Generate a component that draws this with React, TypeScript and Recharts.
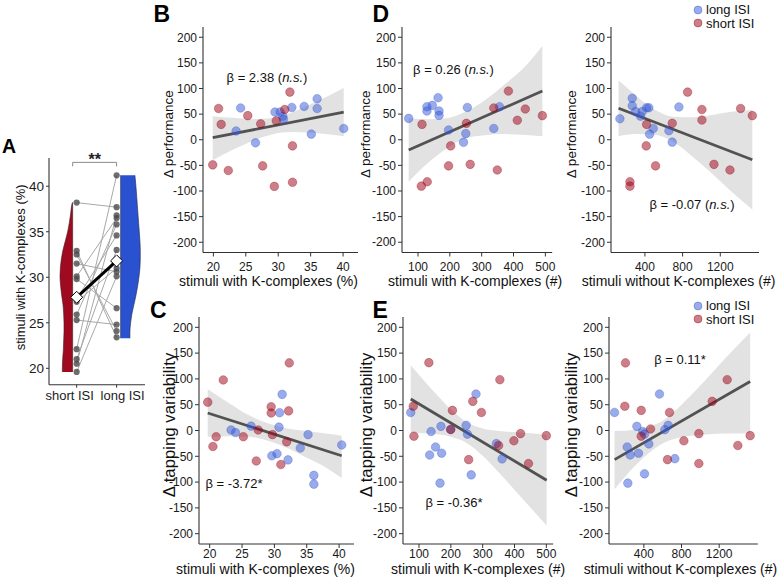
import React from 'react';
import { ComposedChart, Scatter, Area, Line, XAxis, YAxis, Label } from 'recharts';

const FONT = '"Liberation Sans", Arial, Helvetica, sans-serif';
const BLUE = 'rgb(51,88,213)';
const RED = 'rgb(155,0,19)';
const VIOLIN_RED = 'rgb(160,10,32)';
const VIOLIN_BLUE = 'rgb(42,82,208)';
const INK = '#1a1a1a';
const AXIS = '#333';

type Pair = [number, number];

// ---------- Panel A: stimuli with K-complexes (%) per participant ----------
const aGroups = ['short ISI', 'long ISI'];
const aShortPct = [38.2, 32.9, 32.5, 31.5, 30.1, 29.8, 27.6, 27.3, 25.9, 25.3, 22.1, 21.0, 20.5, 19.6];
const aLongPct = [37.7, 23.4, 24.1, 30.6, 36.5, 26.6, 34.6, 31.0, 35.8, 24.8, 41.2, 33.0, 36.8, 30.1];
const aMeans = [27.8, 31.8];
const aYTicks = [20, 25, 30, 35, 40];

// half-violin outlines: half-widths (in group units) along each y grid
const violinShortY = [19.6, 20, 21, 22, 23, 24, 25, 26, 27, 28, 29, 30, 31, 32, 33, 34, 35, 36, 37, 38, 38.2];
const violinShortW = [0.258, 0.258, 0.25, 0.233, 0.225, 0.217, 0.217, 0.225, 0.242, 0.275, 0.3, 0.317, 0.308, 0.283, 0.242, 0.183, 0.125, 0.083, 0.05, 0.02, 0.008];
const violinLongY = [23.3, 24, 25, 26, 27, 28, 29, 30, 31, 32, 33, 34, 35, 36, 37, 38, 39, 40, 41.2];
const violinLongW = [0.233, 0.233, 0.25, 0.283, 0.333, 0.383, 0.425, 0.458, 0.483, 0.492, 0.492, 0.483, 0.467, 0.45, 0.433, 0.417, 0.4, 0.383, 0.358];

// ---------- Panel B: Δ performance vs stimuli with K-complexes (%) ----------
const bLong: Pair[] = [[23.5, 17], [24.2, 62], [26.5, -6], [29.5, 54], [30.3, 54], [30.7, 46], [30.8, 40], [32.1, 63], [34.0, 65], [35.1, 11], [36.0, 80], [36.0, 61], [40.1, 22]];
const bShort: Pair[] = [[19.9, -49], [20.8, 61], [21.2, 30], [22.3, -60], [25.3, 47], [27.3, 31], [27.6, -51], [29.4, -91], [29.7, 37], [31.0, 59], [31.8, 93], [32.2, -12], [32.2, -83]];
const bBandX = [19.9, 23, 26, 29, 32, 35, 38, 40.1];
const bBandLo = [-40, -19.7, -2.6, 10.3, 14.9, 13.7, 10.3, 7];
const bBandHi = [46, 42.7, 40.4, 42.5, 52.9, 69.1, 87.3, 101];
const bFit: Pair = [4, 54];

// ---------- Panel C: Δ tapping variability vs stimuli with K-complexes (%) ----------
const cLong: Pair[] = [[23.3, 1], [24.0, -4], [26.4, 8.5], [29.6, -49], [30.4, -45], [30.7, 6.5], [30.8, 34.5], [31.2, 70], [32.1, -57], [34.0, -34], [35.2, -8], [36.1, -87], [36.1, -104], [40.4, -28]];
const cShort: Pair[] = [[19.7, 55], [22.1, 98], [21.0, -12], [20.5, -31], [25.2, -12], [27.2, -59], [27.5, 1], [29.5, 46], [29.5, 34], [29.7, -8], [31.0, -66], [31.9, -22], [32.2, 38], [32.3, 131]];
const cBandX = [19.7, 23, 26, 29, 32, 35, 38, 40.4];
const cBandLo = [-12, -11, -12, -20, -34, -53, -72, -92];
const cBandHi = [80, 53, 30, 14, 4, -1, -6, -10];
const cFit: Pair = [34, -49];

// ---------- Panel D (left): Δ performance vs stimuli with K-complexes (#) ----------
const dLong: Pair[] = [[70.7, 41.7], [128, 64.5], [128, 56], [145, 67], [163, 82], [166, 56], [166, 47.5], [196, 19], [255, 63], [243, -5], [250, 12], [338, 22], [356, 64.5]];
const dShort: Pair[] = [[112.6, 30], [110.5, -90.5], [129, -82], [202.6, -12], [196, -51], [252, 32], [264, -48], [338, 62], [349, -59], [384, 95], [412, 38], [437, 60], [490.6, 47]];
const dBandX = [70.7, 130, 190, 250, 310, 370, 430, 490.6];
const dBandLo = [-82, -46, -17, 3, 9, 11, 10, 7];
const dBandHi = [42, 40, 42, 55, 77, 107, 139, 183];
const dFit: Pair = [-20, 95];

// ---------- Panel D (right): Δ performance vs stimuli without K-complexes (#) ----------
const drLong: Pair[] = [[134.5, 41], [265.5, 81], [265.5, 66.5], [301, 55], [354, 46], [372, 55], [418, 62.5], [442, 62.5], [488.5, 22], [449.6, 11], [655, 17.6], [690, -4.6], [761, 64]];
const drShort: Pair[] = [[241, -82], [241, -90.5], [418, 30], [414, -12], [513, -51], [690, 32], [853, 93], [1005, 59], [1005, 38.4], [1133, -48], [1303, -59], [1416, 61], [1540, 47]];
const drBandX = [120, 300, 500, 700, 900, 1100, 1300, 1540];
const drBandLo = [7, 11, 10, -4, -32, -64, -98, -136];
const drBandHi = [116, 87, 59, 45, 44, 48, 54, 58];
const drFit: Pair = [61.5, -39];

// ---------- Panel E (left): Δ tapping variability vs stimuli with K-complexes (#) ----------
const eLong: Pair[] = [[74, 35], [138, -2], [152, -32], [133.5, -47.5], [169, 8], [171, -44], [166, -102], [199.5, 2], [248, 10], [252, -7], [279, 70.7], [264, -86], [343, -25.5], [361, -55]];
const eShort: Pair[] = [[131, 131.5], [82, 47], [84, -11], [205, 39], [269, 56.5], [296, 35], [256, -56.5], [354, 98.5], [350, -29], [398, -20], [419, -6], [444, -64], [500, -10], [199.5, 2]];
const eBandX = [74, 150, 200, 250, 300, 350, 420, 501];
const eBandLo = [-4.5, -7, -12, -24, -49, -81, -129, -184];
const eBandHi = [126.5, 73, 41, 16, 4, -1, -4, -8];
const eFit: Pair = [61, -96.5];

// ---------- Panel E (right): Δ tapping variability vs stimuli without K-complexes (#) ----------
const erLong: Pair[] = [[89, 35], [326, 8], [389, -2], [407, -7], [223, -32], [255, -47.5], [343, -44], [453, -26], [230, -102], [407, -84], [566, 70.7], [623, 1.6], [658, 10], [729, -54.6]];
const erShort: Pair[] = [[205, 131], [198, 47], [372, 39], [372, -11], [471, 3], [673, 35], [651, -56.5], [825, -20], [984, -6], [984, -64], [1126, 56.5], [1285, 98.5], [1398, -29], [1529, -10]];
const erBandX = [89, 300, 450, 600, 800, 1000, 1250, 1529];
const erBandLo = [-114, -70, -44, -25, -13, -8.5, -5.6, -6];
const erBandHi = [-1, 1.5, 7, 19, 50, 87, 137, 190];
const erFit: Pair = [-56.5, 95];

const deltaYTicks = [-200, -150, -100, -50, 0, 50, 100, 150, 200];
const pctTicks = [20, 25, 30, 35, 40];
const countTicks = [100, 200, 300, 400, 500];
const withoutTicks = [400, 800, 1200];

const toPoints = (pairs: Pair[]) => pairs.map(([x, y]) => ({ x, y }));

const makeDot = (color: string) => (props: any) => (
  <circle
    cx={props.cx}
    cy={props.cy}
    r={4.3}
    fill={color}
    fillOpacity={0.5}
    stroke={color}
    strokeOpacity={0.4}
    strokeWidth={0.8}
  />
);
const blueDot = makeDot(BLUE);
const redDot = makeDot(RED);

const tickStyle = { fontSize: 12, fill: INK, fontFamily: FONT };

const yTitleContent = (title: string, fromAxis: number, size: number, shiftUp: number) => (props: any) => {
  const vb = props.viewBox || {};
  const cx = vb.x + vb.width - fromAxis;
  const cy = vb.y + vb.height / 2 - shiftUp;
  return (
    <text
      x={cx}
      y={cy}
      transform={`rotate(-90 ${cx} ${cy})`}
      textAnchor="middle"
      dominantBaseline="central"
      fontSize={size}
      fontFamily={FONT}
      fill="#111"
    >
      {title}
    </text>
  );
};

const xTitleContent = (title: string, dx: number, below: number) => (props: any) => {
  const vb = props.viewBox || {};
  const cx = vb.x + vb.width / 2 + dx;
  const cy = vb.y + below;
  return (
    <text x={cx} y={cy} textAnchor="middle" dominantBaseline="central" fontSize={14} fontFamily={FONT} fill="#111">
      {title}
    </text>
  );
};

interface PanelSpec {
  left: number;
  top: number;
  width: number;
  height: number;
  xDomain: [number, number];
  xTicks: number[];
  longPts: Pair[];
  shortPts: Pair[];
  bandX: number[];
  bandLo: number[];
  bandHi: number[];
  fit: Pair;
  xTitle: string;
  yTitle: string;
  yTitleSize: number;
  yTitleFromAxis: number;
  xTitleDx: number;
  xTitleBelow: number;
  tickGap: number;
  marginRight: number;
}

function ScatterPanel({ s }: { s: PanelSpec }) {
  const ML = 62;
  const MT = 10;
  const MR = s.marginRight;
  const XH = 44;
  const last = s.bandX.length - 1;
  const rows = s.bandX.map((x, i) => ({
    x,
    band: [s.bandLo[i], s.bandHi[i]],
    fit: i === 0 ? s.fit[0] : i === last ? s.fit[1] : null,
  }));
  return (
    <div style={{ position: 'absolute', left: s.left - ML, top: s.top - MT }}>
      <ComposedChart
        width={s.width + ML + MR}
        height={s.height + MT + XH}
        data={rows}
        margin={{ top: MT, right: MR, bottom: 0, left: 0 }}
      >
        <XAxis
          type="number"
          dataKey="x"
          domain={s.xDomain}
          ticks={s.xTicks}
          interval={0}
          allowDataOverflow
          height={XH}
          tickSize={4}
          tickMargin={s.tickGap}
          tick={tickStyle}
          axisLine={{ stroke: AXIS, strokeWidth: 1.1 }}
          tickLine={{ stroke: AXIS }}
        >
          <Label content={xTitleContent(s.xTitle, s.xTitleDx, s.xTitleBelow)} />
        </XAxis>
        <YAxis
          type="number"
          dataKey="y"
          domain={[-220, 220]}
          ticks={deltaYTicks}
          interval={0}
          allowDataOverflow
          width={ML}
          tickSize={4}
          tickMargin={2}
          tick={tickStyle}
          axisLine={{ stroke: AXIS, strokeWidth: 1.1 }}
          tickLine={{ stroke: AXIS }}
        >
          <Label content={yTitleContent(s.yTitle, s.yTitleFromAxis, s.yTitleSize, 5.5)} />
        </YAxis>
        <Area
          type="monotone"
          dataKey="band"
          stroke="none"
          fill="#e2e2e2"
          fillOpacity={1}
          activeDot={false}
          isAnimationActive={false}
        />
        <Scatter data={toPoints(s.longPts)} shape={blueDot} isAnimationActive={false} />
        <Scatter data={toPoints(s.shortPts)} shape={redDot} isAnimationActive={false} />
        <Line
          type="linear"
          dataKey="fit"
          connectNulls
          stroke="#525252"
          strokeWidth={2.8}
          dot={false}
          activeDot={false}
          isAnimationActive={false}
        />
      </ComposedChart>
    </div>
  );
}

const Diamond = (props: any) => {
  const { cx, cy } = props;
  const s = 6;
  return (
    <path
      d={`M${cx},${cy - s}L${cx + s},${cy}L${cx},${cy + s}L${cx - s},${cy}Z`}
      fill="#fff"
      stroke="#000"
      strokeWidth={1}
    />
  );
};
const GreyDot = (props: any) => (
  <circle cx={props.cx} cy={props.cy} r={3.1} fill="#4a4a4a" fillOpacity={0.8} />
);
const NoMark = () => <g />;

const GroupTick = (props: any) => {
  const { x, y, payload } = props;
  const shift = payload.value === 1 ? -7 : 6;
  return (
    <text x={x + shift} y={y} dy="0.71em" textAnchor="middle" fontSize={13} fontFamily={FONT} fill={INK}>
      {aGroups[payload.value - 1]}
    </text>
  );
};

// geometry shared by the three layers of panel A
const A_ML = 48;
const A_MT = 10;
const A_MR = 10;
const A_XH = 40;
const A_PLOT = { left: 49, top: 158.3, width: 96, height: 226.7 };
const A_XDOMAIN: [number, number] = [0.308, 2.71];
const A_YDOMAIN: [number, number] = [18.2, 43.1];
const A_W = A_PLOT.width + A_ML + A_MR;
const A_H = A_PLOT.height + A_MT + A_XH;
const A_POS: React.CSSProperties = { position: 'absolute', left: A_PLOT.left - A_ML, top: A_PLOT.top - A_MT };

function HalfViolin({ rows, fill, stroke }: { rows: { y: number; edge: number[] }[]; fill: string; stroke: string }) {
  return (
    <div style={A_POS}>
      <ComposedChart
        layout="vertical"
        width={A_W}
        height={A_H}
        data={rows}
        margin={{ top: A_MT, right: A_MR, bottom: A_XH, left: A_ML }}
      >
        <XAxis type="number" domain={A_XDOMAIN} allowDataOverflow hide />
        <YAxis type="number" dataKey="y" domain={A_YDOMAIN} allowDataOverflow reversed hide />
        <Area
          type="monotone"
          dataKey="edge"
          fill={fill}
          fillOpacity={1}
          stroke={stroke}
          strokeWidth={0.6}
          activeDot={false}
          isAnimationActive={false}
        />
      </ComposedChart>
    </div>
  );
}

function PanelA() {
  const shortRows = violinShortY.map((y, i) => ({ y, edge: [0.9 - violinShortW[i], 0.9] }));
  const longRows = violinLongY.map((y, i) => ({ y, edge: [2.1, 2.1 + violinLongW[i]] }));
  const points = [
    ...aShortPct.map((y) => ({ x: 1, y })),
    ...aLongPct.map((y) => ({ x: 2, y })),
  ];
  const means = aMeans.map((y, i) => ({ x: i + 1, y }));
  const bracket = [
    { x: 0.9, y: 42.18 },
    { x: 0.9, y: 42.62 },
    { x: 2, y: 42.62 },
    { x: 2, y: 42.18 },
  ];

  return (
    <>
      <HalfViolin rows={shortRows} fill={VIOLIN_RED} stroke="#3a2020" />
      <HalfViolin rows={longRows} fill={VIOLIN_BLUE} stroke="#202a40" />
      <div style={A_POS}>
        <ComposedChart width={A_W} height={A_H} margin={{ top: A_MT, right: A_MR, bottom: 0, left: 0 }}>
          <XAxis
            type="number"
            dataKey="x"
            domain={A_XDOMAIN}
            ticks={[1, 2]}
            interval={0}
            allowDataOverflow
            height={A_XH}
            tickSize={3}
            tickMargin={3}
            tick={<GroupTick />}
            axisLine={{ stroke: AXIS, strokeWidth: 1.1 }}
            tickLine={{ stroke: AXIS }}
          />
          <YAxis
            type="number"
            dataKey="y"
            domain={A_YDOMAIN}
            ticks={aYTicks}
            interval={0}
            allowDataOverflow
            width={A_ML}
            tickSize={3}
            tickMargin={2}
            tick={{ fontSize: 13.5, fill: INK, fontFamily: FONT }}
            axisLine={{ stroke: AXIS, strokeWidth: 1.1 }}
            tickLine={{ stroke: AXIS }}
          >
            <Label content={yTitleContent('stimuli with K-complexes (%)', 29, 13, 4)} />
          </YAxis>
          {aShortPct.map((s, i) => (
            <Scatter
              key={`pair-${i}`}
              data={[
                { x: 1, y: s },
                { x: 2, y: aLongPct[i] },
              ]}
              line={{ stroke: '#a8a8a8', strokeWidth: 1 }}
              shape={NoMark}
              isAnimationActive={false}
            />
          ))}
          <Scatter
            data={bracket}
            line={{ stroke: '#8a8a8a', strokeWidth: 1 }}
            shape={NoMark}
            isAnimationActive={false}
          />
          <Scatter data={points} shape={GreyDot} isAnimationActive={false} />
          <Scatter
            data={means}
            line={{ stroke: '#000', strokeWidth: 3 }}
            shape={Diamond}
            isAnimationActive={false}
          />
        </ComposedChart>
      </div>
    </>
  );
}

const panels: PanelSpec[] = [
  {
    left: 203, top: 26.75, width: 155, height: 225.5,
    xDomain: [18.4, 42.3], xTicks: pctTicks,
    longPts: bLong, shortPts: bShort,
    bandX: bBandX, bandLo: bBandLo, bandHi: bBandHi, fit: bFit,
    xTitle: 'stimuli with K-complexes (%)', yTitle: 'Δ performance', yTitleSize: 13.5,
    yTitleFromAxis: 34.5, xTitleDx: -12, xTitleBelow: 28.5, tickGap: 6, marginRight: 12,
  },
  {
    left: 402.3, top: 26.75, width: 150.2, height: 225.5,
    xDomain: [49.7, 521.5], xTicks: countTicks,
    longPts: dLong, shortPts: dShort,
    bandX: dBandX, bandLo: dBandLo, bandHi: dBandHi, fit: dFit,
    xTitle: 'stimuli with K-complexes (#)', yTitle: 'Δ performance', yTitleSize: 13.5,
    yTitleFromAxis: 36, xTitleDx: -2, xTitleBelow: 28.5, tickGap: 6, marginRight: 12,
  },
  {
    left: 610.5, top: 26.75, width: 148, height: 225.5,
    xDomain: [40, 1611], xTicks: withoutTicks,
    longPts: drLong, shortPts: drShort,
    bandX: drBandX, bandLo: drBandLo, bandHi: drBandHi, fit: drFit,
    xTitle: 'stimuli without K-complexes (#)', yTitle: 'Δ performance', yTitleSize: 13.5,
    yTitleFromAxis: 39.5, xTitleDx: -6.5, xTitleBelow: 28.5, tickGap: 6, marginRight: 22,
  },
  {
    left: 199.3, top: 316.5, width: 155, height: 227,
    xDomain: [18.35, 42.3], xTicks: pctTicks,
    longPts: cLong, shortPts: cShort,
    bandX: cBandX, bandLo: cBandLo, bandHi: cBandHi, fit: cFit,
    xTitle: 'stimuli with K-complexes (%)', yTitle: 'Δ tapping variability', yTitleSize: 16.8,
    yTitleFromAxis: 30, xTitleDx: -11, xTitleBelow: 25, tickGap: 1, marginRight: 12,
  },
  {
    left: 403.3, top: 316.5, width: 150.2, height: 227,
    xDomain: [49.7, 521.5], xTicks: countTicks,
    longPts: eLong, shortPts: eShort,
    bandX: eBandX, bandLo: eBandLo, bandHi: eBandHi, fit: eFit,
    xTitle: 'stimuli with K-complexes (#)', yTitle: 'Δ tapping variability', yTitleSize: 16.8,
    yTitleFromAxis: 36, xTitleDx: 0, xTitleBelow: 25, tickGap: 1, marginRight: 12,
  },
  {
    left: 609.4, top: 316.5, width: 148.8, height: 227,
    xDomain: [30, 1610], xTicks: withoutTicks,
    longPts: erLong, shortPts: erShort,
    bandX: erBandX, bandLo: erBandLo, bandHi: erBandHi, fit: erFit,
    xTitle: 'stimuli without K-complexes (#)', yTitle: 'Δ tapping variability', yTitleSize: 16.8,
    yTitleFromAxis: 37.7, xTitleDx: -3, xTitleBelow: 25, tickGap: 1, marginRight: 22,
  },
];

const panelLetters = [
  { text: 'A', left: 2, top: 136.5, size: 19.5 },
  { text: 'B', left: 153.5, top: 3, size: 23 },
  { text: 'C', left: 150, top: 298.7, size: 23 },
  { text: 'D', left: 372.5, top: 3, size: 23 },
  { text: 'E', left: 372.5, top: 298.7, size: 23 },
];

const betaNotes = [
  { x: 267, y: 77, value: '2.38', ns: true },
  { x: 453.5, y: 69, value: '0.26', ns: true },
  { x: 692, y: 204, value: '-0.07', ns: true },
  { x: 234, y: 483, value: '-3.72*', ns: false },
  { x: 454, y: 502, value: '-0.36*', ns: false },
  { x: 680, y: 359, value: '0.11*', ns: false },
];

const legendEntries = [
  { label: 'long ISI', color: BLUE },
  { label: 'short ISI', color: RED },
];
const legendTops = [3, 299];

export default function App() {
  return (
    <div
      style={{
        position: 'relative',
        width: 778,
        height: 577,
        background: '#fff',
        fontFamily: FONT,
        color: '#111',
        overflow: 'hidden',
      }}
    >
      <style>{'body{margin:0;background:#fff;}'}</style>
      <PanelA />
      {panels.map((p, i) => (
        <ScatterPanel key={i} s={p} />
      ))}
      {panelLetters.map((l) => (
        <div
          key={l.text}
          style={{
            position: 'absolute',
            left: l.left,
            top: l.top,
            fontSize: l.size,
            lineHeight: 1,
            fontWeight: 700,
            color: '#000',
          }}
        >
          {l.text}
        </div>
      ))}
      <div
        style={{
          position: 'absolute',
          left: 94.7,
          top: 152.2,
          transform: 'translateX(-50%)',
          fontSize: 16,
          lineHeight: 1,
          fontWeight: 700,
          color: '#222',
        }}
      >
        **
      </div>
      {betaNotes.map((b, i) => (
        <div
          key={i}
          style={{
            position: 'absolute',
            left: b.x,
            top: b.y,
            transform: 'translate(-50%, -50%)',
            fontSize: 13,
            lineHeight: 1,
            whiteSpace: 'nowrap',
            color: '#111',
          }}
        >
          {'β = ' + b.value}
          {b.ns ? (
            <>
              {' ('}
              <i>n.s.</i>
              {')'}
            </>
          ) : null}
        </div>
      ))}
      {legendTops.map((top, k) => (
        <div key={k} style={{ position: 'absolute', left: 693, top }}>
          {legendEntries.map((e) => (
            <div key={e.label} style={{ display: 'flex', alignItems: 'center', height: 13.5 }}>
              <svg width={10} height={10} style={{ marginRight: 3 }}>
                <circle cx={5} cy={5} r={4} fill={e.color} fillOpacity={0.5} stroke={e.color} strokeOpacity={0.4} />
              </svg>
              <span style={{ fontSize: 13, lineHeight: 1 }}>{e.label}</span>
            </div>
          ))}
        </div>
      ))}
    </div>
  );
}
